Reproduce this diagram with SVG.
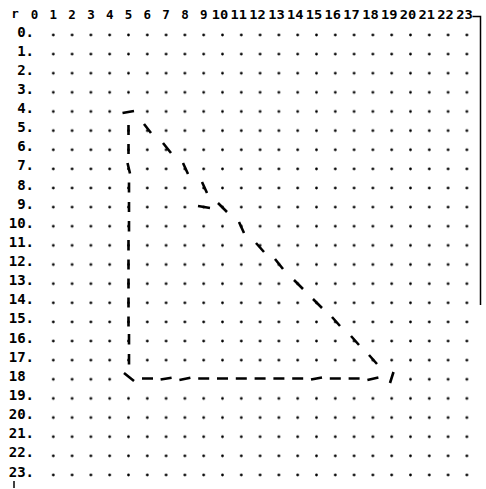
<svg xmlns="http://www.w3.org/2000/svg" width="486" height="489" viewBox="0 0 486 489">
<style>
.hd{font-family:"DejaVu Sans Mono","Liberation Mono",monospace;font-weight:bold;font-size:12.5px;fill:#000;text-anchor:middle}
.rl{font-family:"DejaVu Sans Mono","Liberation Mono",monospace;font-weight:bold;font-size:14px;fill:#000;text-anchor:end}
.d{stroke:#000;stroke-width:2.6;stroke-linecap:butt;fill:none}
.fr{stroke:#000;stroke-width:1.5;fill:none}
</style>
<defs>
<pattern id="dots" patternUnits="userSpaceOnUse" x="25.1" y="25.435" width="18.8" height="19.13">
<circle cx="9.4" cy="9.565" r="1.35" fill="#000"/>
</pattern>
</defs>
<rect width="486" height="489" fill="#fff"/>
<g id="grid">
<rect x="43.9" y="25.435" width="432.4" height="459.12" fill="url(#dots)"/>
</g>
<g id="header">
<text class="hd" x="15" y="18" font-size="10">r</text>
<text class="hd" x="34.5" y="19">0</text>
<text class="hd" x="53.3" y="19">1</text>
<text class="hd" x="72.1" y="19">2</text>
<text class="hd" x="90.9" y="19">3</text>
<text class="hd" x="109.7" y="19">4</text>
<text class="hd" x="128.5" y="19">5</text>
<text class="hd" x="147.3" y="19">6</text>
<text class="hd" x="166.1" y="19">7</text>
<text class="hd" x="184.9" y="19">8</text>
<text class="hd" x="203.7" y="19">9</text>
<text class="hd" x="220" y="19" textLength="16.5" lengthAdjust="spacingAndGlyphs">10</text>
<text class="hd" x="238.8" y="19" textLength="16.5" lengthAdjust="spacingAndGlyphs">11</text>
<text class="hd" x="257.6" y="19" textLength="16.5" lengthAdjust="spacingAndGlyphs">12</text>
<text class="hd" x="276.4" y="19" textLength="16.5" lengthAdjust="spacingAndGlyphs">13</text>
<text class="hd" x="295.2" y="19" textLength="16.5" lengthAdjust="spacingAndGlyphs">14</text>
<text class="hd" x="314" y="19" textLength="16.5" lengthAdjust="spacingAndGlyphs">15</text>
<text class="hd" x="332.8" y="19" textLength="16.5" lengthAdjust="spacingAndGlyphs">16</text>
<text class="hd" x="351.6" y="19" textLength="16.5" lengthAdjust="spacingAndGlyphs">17</text>
<text class="hd" x="370.4" y="19" textLength="16.5" lengthAdjust="spacingAndGlyphs">18</text>
<text class="hd" x="389.2" y="19" textLength="16.5" lengthAdjust="spacingAndGlyphs">19</text>
<text class="hd" x="408" y="19" textLength="16.5" lengthAdjust="spacingAndGlyphs">20</text>
<text class="hd" x="426.8" y="19" textLength="16.5" lengthAdjust="spacingAndGlyphs">21</text>
<text class="hd" x="445.6" y="19" textLength="16.5" lengthAdjust="spacingAndGlyphs">22</text>
<text class="hd" x="464.4" y="19" textLength="16.5" lengthAdjust="spacingAndGlyphs">23</text>
</g>
<g id="frame">
<path class="fr" d="M472.5,16.5 H480.5 V305"/>
<path class="fr" d="M14,481 V488"/>
</g>
<g id="row-labels">
<text class="rl" x="34" y="36.5">0.</text>
<text class="rl" x="34" y="55.6">1.</text>
<text class="rl" x="34" y="74.8">2.</text>
<text class="rl" x="34" y="93.9">3.</text>
<text class="rl" x="34" y="113">4.</text>
<text class="rl" x="34" y="132.2">5.</text>
<text class="rl" x="34" y="151.3">6.</text>
<text class="rl" x="34" y="170.4">7.</text>
<text class="rl" x="34" y="189.5">8.</text>
<text class="rl" x="34" y="208.7">9.</text>
<text class="rl" x="34" y="227.8">10.</text>
<text class="rl" x="34" y="246.9">11.</text>
<text class="rl" x="34" y="266.1">12.</text>
<text class="rl" x="34" y="285.2">13.</text>
<text class="rl" x="34" y="304.3">14.</text>
<text class="rl" x="34" y="323.4">15.</text>
<text class="rl" x="34" y="342.6">16.</text>
<text class="rl" x="34" y="361.7">17.</text>
<text class="rl" x="25.6" y="380.8">18</text>
<text class="rl" x="34" y="400">19.</text>
<text class="rl" x="34" y="419.1">20.</text>
<text class="rl" x="34" y="438.2">21.</text>
<text class="rl" x="34" y="457.4">22.</text>
<text class="rl" x="34" y="476.5">23.</text>
</g>
<g id="connectors">
<rect x="118" y="105" width="20" height="12" fill="#fff"/>
<path class="d" d="M122.5,113 L134,111"/>
<g id="left-edge">
<path class="d" d="M128.5,125 V135 M128.5,144 V154 M127.5,163 L130,173.5 M129,182.5 V192.5 M129,202 V212 M129,221 V231.5 M128.5,240 V250.5 M128.5,259.5 V269.5 M128.5,278.5 V288.5 M128.5,297.5 V307.5 M128.5,316.5 V326.5 M129,334 V344.5 M129,354 V364.5"/>
</g>
<g id="hypotenuse">
<path class="d" d="M144,124 L151,133 M163,143 L171,153 M183,163 L188,174 M202,182 L207,193 M198,206 L210,208 M218,203 L227,212 M239,222 L244,233 M256,243 L264,252 M275,259 L283,269 M294,280 L303,289 M313,299 L322,308 M332,317 L340,326 M351,336 L359,345 M369,355 L377,364"/>
</g>
<g id="bottom-edge">
<rect x="120" y="372" width="280" height="14" fill="#fff"/>
<path class="d" d="M124,373 L134,381 M142,378.5 H153 M160.6,379.5 L171.6,377.8 M179.4,380 L190.4,377.8 M198.2,378.5 H209.2 M217,378.5 H228 M235.8,378.5 H246.8 M254.6,378.5 H265.6 M273.4,378.5 H284.4 M292.2,378.5 H303.2 M311,379.6 L322,377.4 M329.8,378.5 H340.8 M348.6,378.5 H359.6 M367.4,380 L378.4,377.6 M390,383 L393.5,372"/>
</g>
</g>
</svg>
